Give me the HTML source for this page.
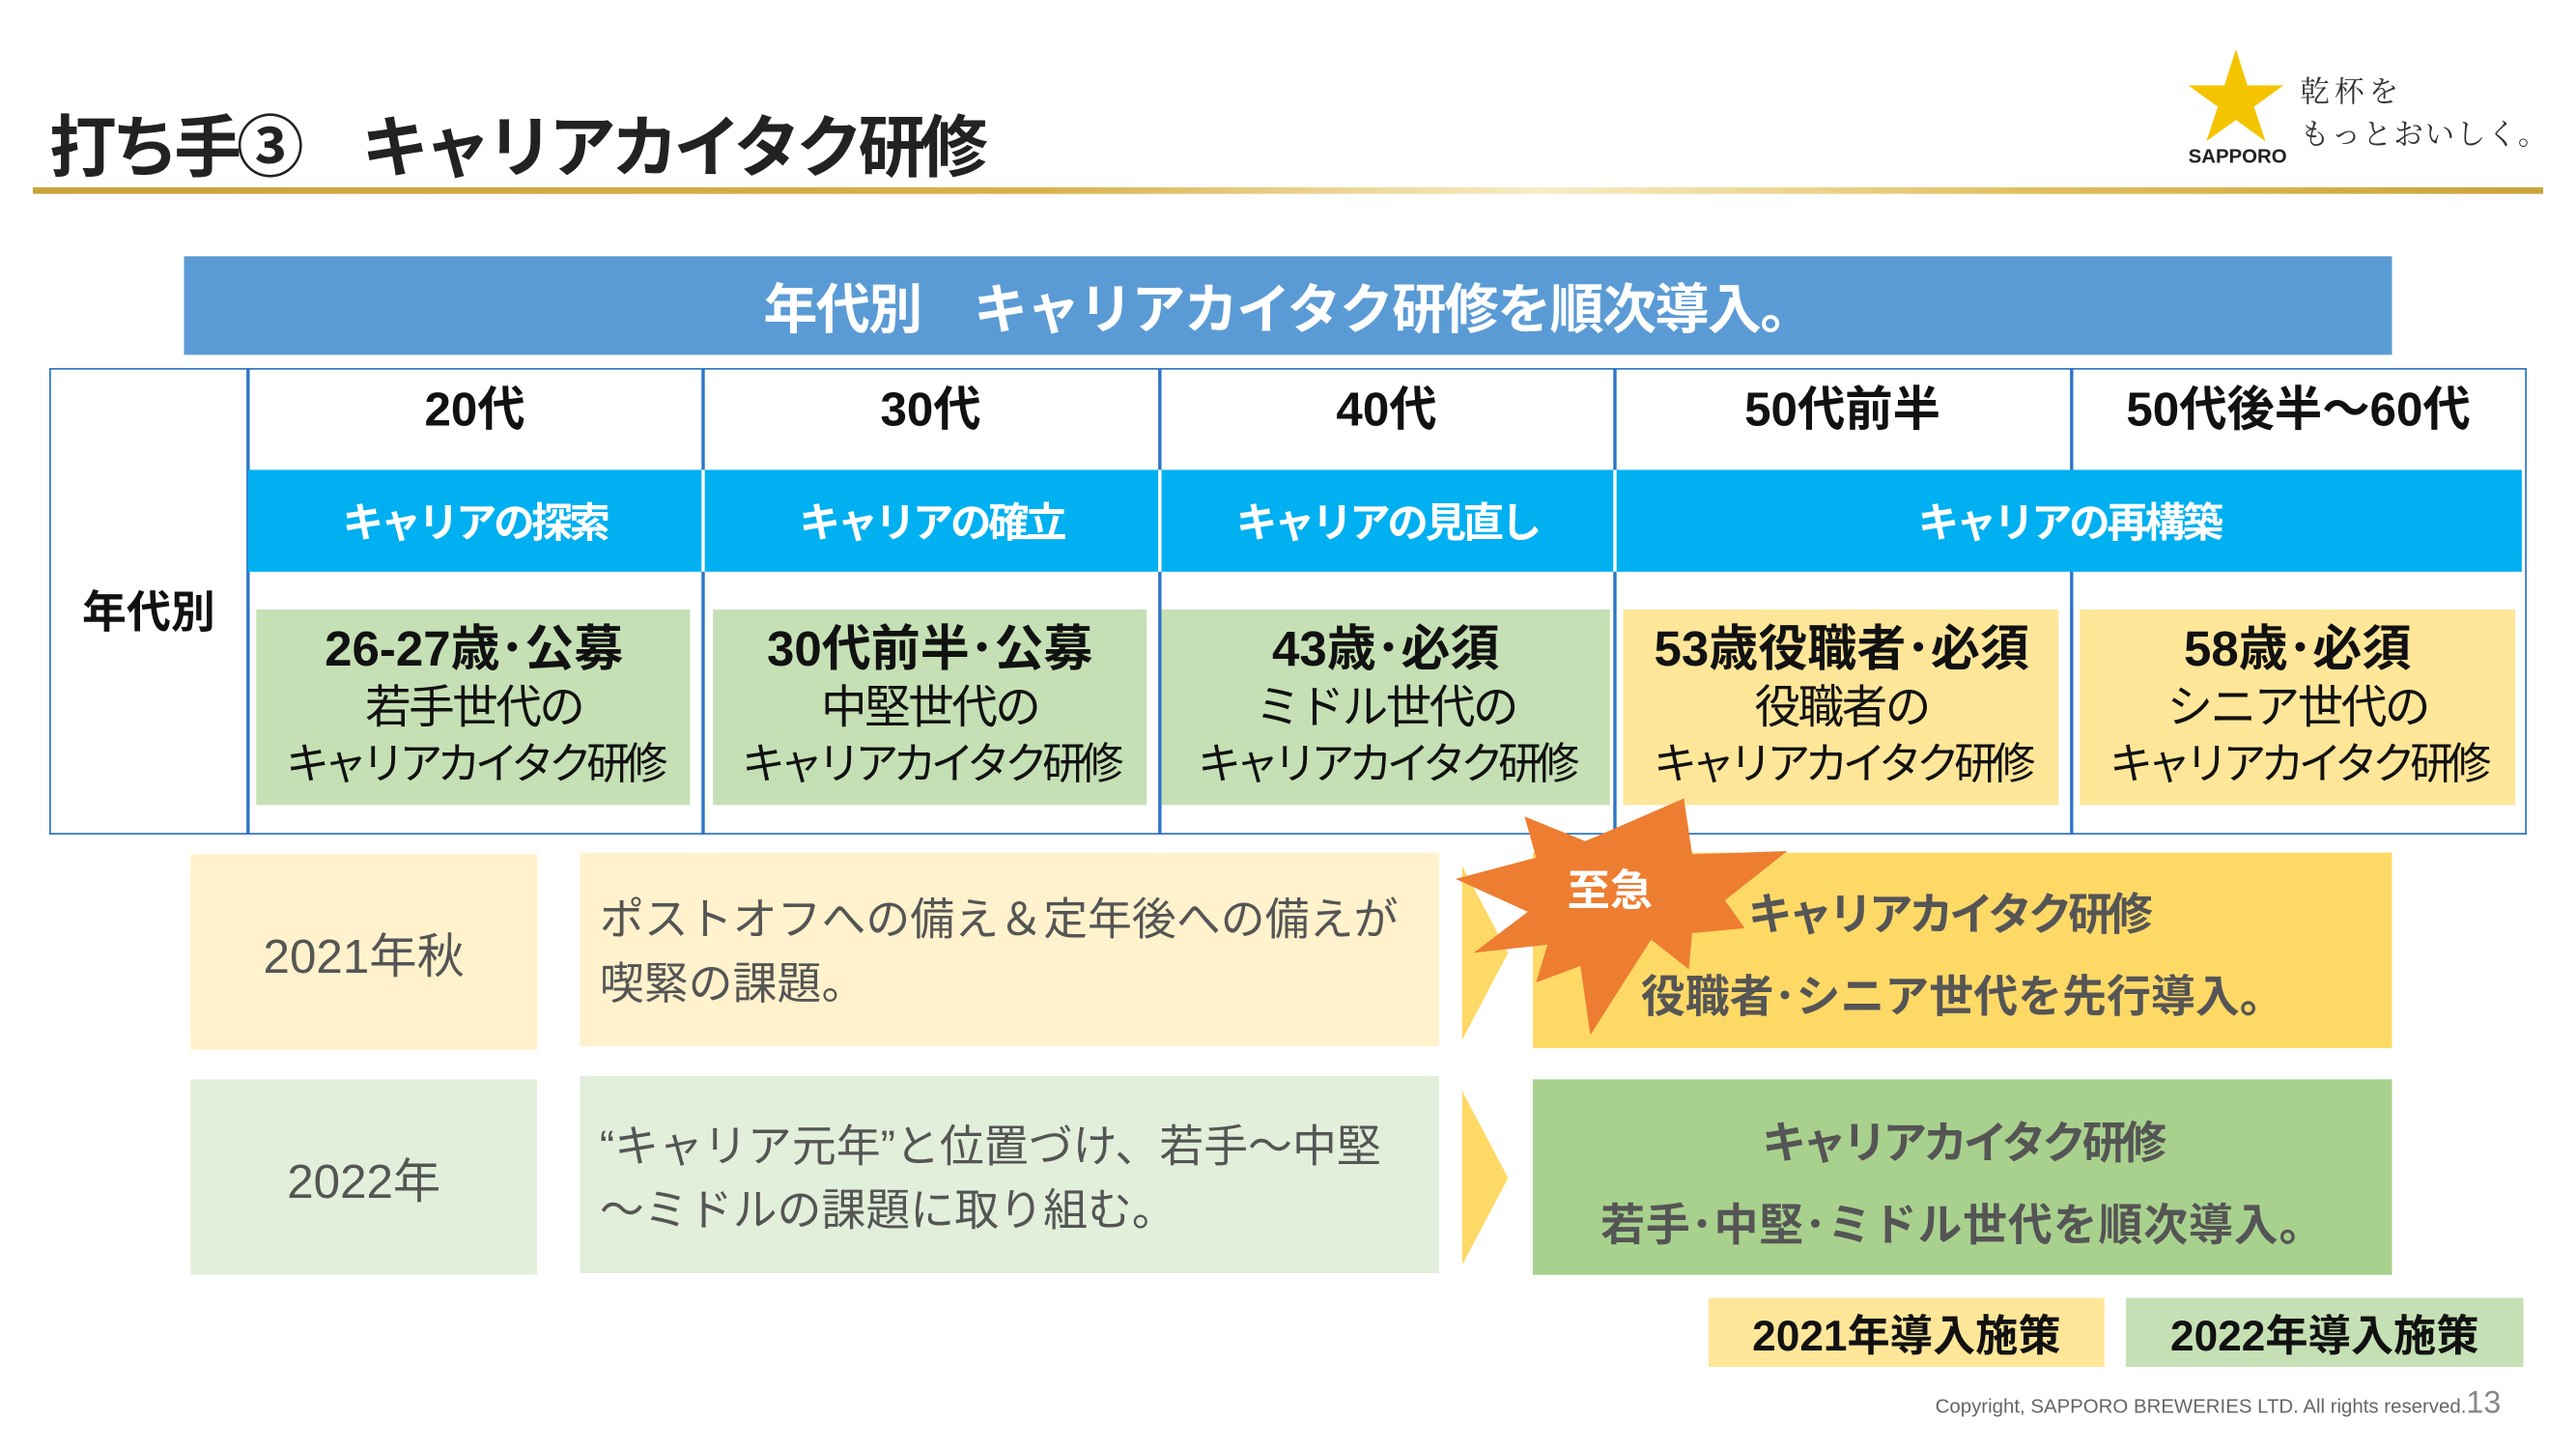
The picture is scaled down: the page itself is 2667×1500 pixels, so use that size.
<!DOCTYPE html>
<html><head><meta charset="utf-8">
<style>
html,body{margin:0;padding:0;background:#fff;}
body{width:2667px;height:1500px;overflow:hidden;}
#w{position:absolute;left:0;top:0;width:1568px;height:882px;transform:scale(1.70089,1.70068);transform-origin:0 0;font-family:"Liberation Sans","Noto Sans CJK JP",sans-serif;}
.a{position:absolute;box-sizing:border-box;}
.c{display:flex;align-items:center;justify-content:center;text-align:center;}
.b{font-weight:bold;}
.bx{position:absolute;top:378px;text-align:center;color:#111;white-space:nowrap}
.bx div{height:35px;line-height:35px}
.l1{font-size:30px;font-weight:bold}
.l2{font-size:28px;letter-spacing:-1.5px}
.l3{font-size:26.5px;letter-spacing:-3.5px}
</style></head><body><div id="w">
<div class="a b" style="left:30px;top:56px;font-size:41px;color:#222;white-space:nowrap;letter-spacing:-3px">打ち手③　キャリアカイタク研修</div>
<div class="a" style="left:20px;top:114px;width:1528px;height:4px;background:linear-gradient(90deg,#c9a23a 0%,#d8b04a 40%,#f8ecc4 60%,#e0bd5a 80%,#c9a23a 100%)"></div>
<svg class="a" style="left:1330px;top:28px" width="64" height="60" viewBox="0 0 64 60"><polygon points="31,2 38,24 60,24 42,37 49,58 31,45 13,58 20,37 2,24 24,24" fill="#f5c400"/></svg>
<div class="a b" style="left:1332px;top:88px;font-size:12px;color:#222">SAPPORO</div>
<div class="a" style="left:1400px;top:42px;font-size:18px;color:#333;font-family:'Noto Serif CJK SC',serif;letter-spacing:3px">乾杯を</div>
<div class="a" style="left:1400px;top:68px;font-size:18px;color:#333;font-family:'Noto Serif CJK SC',serif;letter-spacing:1px">もっとおいしく。</div>

<div class="a c b" style="left:112px;top:156px;width:1344px;height:60px;background:#5b9bd5;color:#fff;font-size:33px;letter-spacing:-1px">年代別　キャリアカイタク研修を順次導入。</div>

<div class="a" style="left:30px;top:224px;width:1508px;height:284px;border:1.5px solid #2e75c6"></div>
<div class="a" style="left:150px;top:224px;width:1.5px;height:284px;background:#2e75c6"></div>
<div class="a" style="left:427px;top:224px;width:1.5px;height:284px;background:#2e75c6"></div>
<div class="a" style="left:705px;top:224px;width:1.5px;height:284px;background:#2e75c6"></div>
<div class="a" style="left:982px;top:224px;width:1.5px;height:284px;background:#2e75c6"></div>
<div class="a" style="left:1260px;top:224px;width:1.5px;height:284px;background:#2e75c6"></div>
<div class="a c b" style="left:31px;top:340px;width:119px;height:60px;font-size:27px;color:#111">年代別</div>

<div class="a c b" style="left:151px;top:224px;width:276px;height:46px;font-size:29px;color:#111">20代</div>
<div class="a c b" style="left:428px;top:224px;width:277px;height:46px;font-size:29px;color:#111">30代</div>
<div class="a c b" style="left:706px;top:224px;width:276px;height:46px;font-size:29px;color:#111">40代</div>
<div class="a c b" style="left:983px;top:224px;width:277px;height:46px;font-size:29px;color:#111">50代前半</div>
<div class="a c b" style="left:1261px;top:224px;width:276px;height:46px;font-size:29px;color:#111">50代後半～60代</div>

<div class="a" style="left:151px;top:286px;width:1384px;height:62px;background:#00b0f0"></div>
<div class="a" style="left:427px;top:286px;width:2px;height:62px;background:#fff"></div>
<div class="a" style="left:705px;top:286px;width:2px;height:62px;background:#fff"></div>
<div class="a" style="left:982px;top:286px;width:2px;height:62px;background:#fff"></div>
<div class="a c b" style="left:151px;top:286px;width:276px;height:62px;font-size:25px;color:#fff;letter-spacing:-2px">キャリアの探索</div>
<div class="a c b" style="left:429px;top:286px;width:276px;height:62px;font-size:25px;color:#fff;letter-spacing:-2px">キャリアの確立</div>
<div class="a c b" style="left:707px;top:286px;width:275px;height:62px;font-size:25px;color:#fff;letter-spacing:-2px">キャリアの見直し</div>
<div class="a c b" style="left:984px;top:286px;width:551px;height:62px;font-size:25px;color:#fff;letter-spacing:-2px">キャリアの再構築</div>

<div class="a" style="left:156px;top:371px;width:264px;height:119px;background:#c5e0b4"></div>
<div class="a" style="left:434px;top:371px;width:264px;height:119px;background:#c5e0b4"></div>
<div class="a" style="left:707px;top:371px;width:273px;height:119px;background:#c5e0b4"></div>
<div class="a" style="left:988px;top:371px;width:265px;height:119px;background:#ffe699"></div>
<div class="a" style="left:1266px;top:371px;width:265px;height:119px;background:#ffe699"></div>

<div class="bx" style="left:150px;width:277px"><div class="l1">26-27歳･公募</div><div class="l2">若手世代の</div><div class="l3">キャリアカイタク研修</div></div>
<div class="bx" style="left:427px;width:278px"><div class="l1">30代前半･公募</div><div class="l2">中堅世代の</div><div class="l3">キャリアカイタク研修</div></div>
<div class="bx" style="left:705px;width:277px"><div class="l1">43歳･必須</div><div class="l2">ミドル世代の</div><div class="l3">キャリアカイタク研修</div></div>
<div class="bx" style="left:982px;width:278px"><div class="l1">53歳役職者･必須</div><div class="l2">役職者の</div><div class="l3">キャリアカイタク研修</div></div>
<div class="bx" style="left:1260px;width:277px"><div class="l1">58歳･必須</div><div class="l2">シニア世代の</div><div class="l3">キャリアカイタク研修</div></div>

<!-- row 2021 -->
<div class="a c" style="left:116px;top:520px;width:211px;height:119px;background:#fff2cc;font-size:29px;color:#555">2021年秋</div>
<div class="a" style="left:353px;top:519px;width:523px;height:118px;background:#fff2cc;font-size:27px;color:#555;padding:22px 0 0 12px;line-height:39px;white-space:nowrap">ポストオフへの備え＆定年後への備えが<br>喫緊の課題。</div>
<svg class="a" style="left:888px;top:525px" width="32" height="110"><polygon points="2,2 30,55 2,108" fill="#ffd966"/></svg>
<div class="a" style="left:933px;top:519px;width:523px;height:119px;background:#ffd966"></div>
<div class="a b" style="left:1064px;top:535px;font-size:27px;color:#555;letter-spacing:-2.5px;white-space:nowrap">キャリアカイタク研修</div>
<div class="a c b" style="left:933px;top:583px;width:523px;height:42px;font-size:27px;color:#555">役職者･シニア世代を先行導入。</div>
<svg class="a" style="left:880px;top:480px" width="220" height="160" viewBox="880 480 220 160"><polygon points="1025,486 1030,520 1088,518 1050,548 1062,565 1030,568 1028,590 1005,572 968,630 962,588 935,598 942,575 897,580 930,555 886,535 935,522 928,497 965,512" fill="#ed7d31"/></svg>
<div class="a c b" style="left:940px;top:520px;width:80px;height:40px;font-size:26px;color:#fff">至急</div>

<!-- row 2022 -->
<div class="a c" style="left:116px;top:657px;width:211px;height:119px;background:#e2efda;font-size:29px;color:#555">2022年</div>
<div class="a" style="left:353px;top:655px;width:523px;height:120px;background:#e2efda;font-size:27px;color:#555;padding:24px 0 0 12px;line-height:39px;white-space:nowrap">“キャリア元年”と位置づけ、若手～中堅<br>～ミドルの課題に取り組む。</div>
<svg class="a" style="left:888px;top:662px" width="32" height="110"><polygon points="2,2 30,55 2,108" fill="#ffd966"/></svg>
<div class="a" style="left:933px;top:657px;width:523px;height:119px;background:#a9d18e"></div>
<div class="a c b" style="left:933px;top:672px;width:523px;height:42px;font-size:27px;color:#555;letter-spacing:-2.5px">キャリアカイタク研修</div>
<div class="a c b" style="left:933px;top:722px;width:523px;height:42px;font-size:27px;color:#555;letter-spacing:0.5px">若手･中堅･ミドル世代を順次導入。</div>

<div class="a c b" style="left:1040px;top:790px;width:241px;height:42px;background:#ffe699;font-size:26px;color:#111">2021年導入施策</div>
<div class="a c b" style="left:1294px;top:790px;width:242px;height:42px;background:#c5e0b4;font-size:26px;color:#111">2022年導入施策</div>

<div class="a" style="left:1178px;top:844px;font-size:12px;color:#666;white-space:nowrap">Copyright, SAPPORO BREWERIES LTD. All rights reserved.<span style="font-size:19px;color:#888">13</span></div>
</div></body></html>
